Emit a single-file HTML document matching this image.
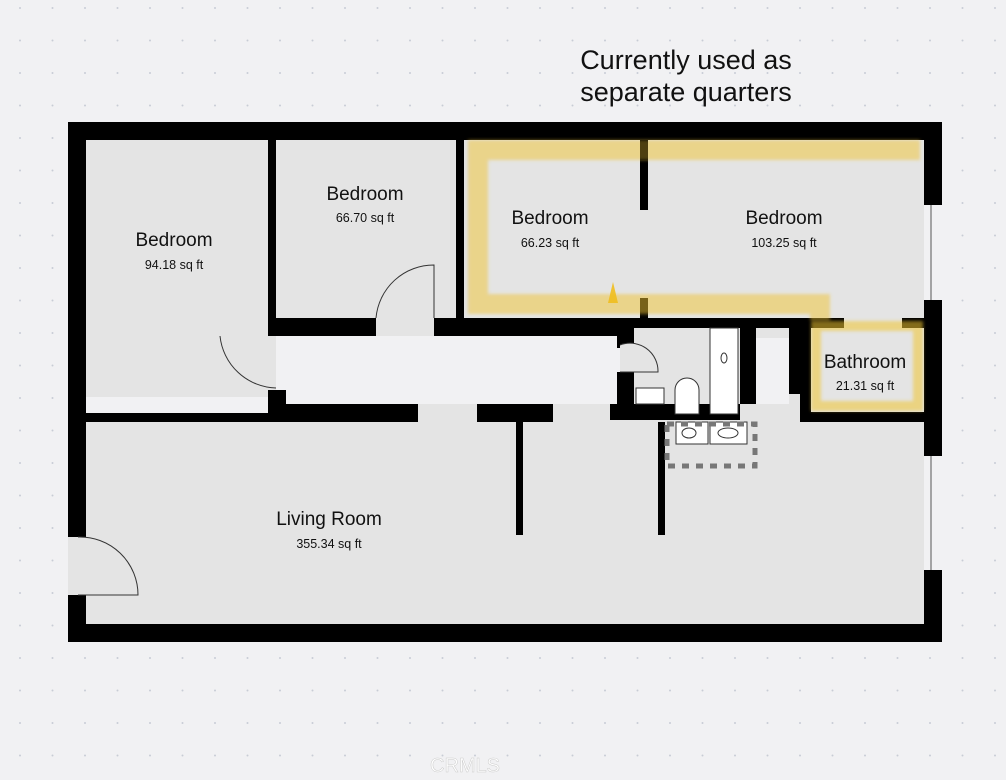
<!DOCTYPE html>
<html><head><style>
body{margin:0;background:#f1f1f3;}
svg{display:block;font-family:"Liberation Sans",sans-serif;}
</style></head><body>
<svg width="1006" height="780" viewBox="0 0 1006 780" xmlns="http://www.w3.org/2000/svg">
<defs><pattern id="dots" width="32.5" height="32.5" patternUnits="userSpaceOnUse"><circle cx="20" cy="8" r="1" fill="#c8ccd6"/></pattern>
<filter id="bl" x="-5%" y="-5%" width="110%" height="110%"><feGaussianBlur stdDeviation="1.5"/></filter></defs>
<rect width="1006" height="780" fill="#f1f1f3"/>
<rect width="1006" height="780" fill="url(#dots)"/>
<text x="686" y="69" font-size="27" text-anchor="middle" fill="#111">Currently used as</text>
<text x="686" y="101" font-size="27" text-anchor="middle" fill="#111">separate quarters</text>
<rect x="68" y="122" width="874" height="520" fill="#000"/>
<rect x="86" y="140" width="838" height="484" fill="#e4e4e4"/>
<rect x="68" y="537" width="18" height="58" fill="#e4e4e4"/>
<path d="M78 537 A58 58 0 0 1 138 595 L78 595" fill="none" stroke="#333" stroke-width="1"/>
<rect x="924" y="205" width="18" height="96" fill="#f1f1f3"/><line x1="931" y1="205" x2="931" y2="301" stroke="#555"/>
<rect x="924" y="455" width="18" height="115" fill="#f1f1f3"/><line x1="931" y1="455" x2="931" y2="570" stroke="#555"/>
<rect x="276" y="336" width="344" height="68" fill="#f1f1f3"/>
<rect x="86" y="397" width="182" height="16" fill="#f1f1f3"/>
<rect x="268" y="140" width="8" height="196" fill="#000"/>
<rect x="268" y="390" width="18" height="23" fill="#000"/>
<rect x="456" y="140" width="8" height="180" fill="#000"/>
<rect x="268" y="318" width="108" height="18" fill="#000"/>
<rect x="434" y="318" width="200" height="18" fill="#000"/>
<rect x="634" y="318" width="210" height="10" fill="#000"/>
<rect x="902" y="318" width="22" height="10" fill="#000"/>
<rect x="86" y="413" width="182" height="9" fill="#000"/>
<rect x="268" y="404" width="150" height="18" fill="#000"/>
<rect x="477" y="404" width="76" height="18" fill="#000"/>
<rect x="610" y="404" width="130" height="16" fill="#000"/>
<rect x="516" y="422" width="7" height="113" fill="#000"/>
<rect x="658" y="422" width="7" height="113" fill="#000"/>
<rect x="640" y="140" width="8" height="70" fill="#000"/>
<rect x="640" y="298" width="8" height="22" fill="#000"/>
<rect x="617" y="328" width="17" height="20" fill="#000"/>
<rect x="617" y="372" width="17" height="34" fill="#000"/>
<rect x="634" y="328" width="106" height="76" fill="#e4e4e4"/>
<rect x="740" y="328" width="16" height="76" fill="#000"/>
<rect x="756" y="338" width="33" height="66" fill="#f1f1f3"/>
<rect x="789" y="328" width="11" height="66" fill="#000"/>
<rect x="800" y="318" width="11" height="104" fill="#000"/>
<rect x="800" y="412" width="124" height="10" fill="#000"/>
<rect x="924" y="300" width="18" height="156" fill="#000"/>
<rect x="811" y="328" width="113" height="84" fill="#e4e4e4"/>
<path d="M620 345 A28 28 0 0 1 658 372 L620 372" fill="#e4e4e4" stroke="#333" stroke-width="1"/>
<rect x="636" y="388" width="28" height="16" fill="#fff" stroke="#333"/>
<rect x="710" y="328" width="28" height="86" fill="#fff" stroke="#333"/>
<ellipse cx="724" cy="358" rx="3" ry="5" fill="none" stroke="#333"/>
<path d="M675 414 V390 A12 12 0 0 1 699 390 V414 Z" fill="#fff" stroke="#333"/>
<rect x="676" y="422" width="32" height="22" fill="#fff" stroke="#333"/>
<rect x="710" y="422" width="37" height="22" fill="#fff" stroke="#333"/>
<ellipse cx="728" cy="433" rx="10" ry="5" fill="none" stroke="#333"/>
<ellipse cx="689" cy="433" rx="7" ry="5" fill="none" stroke="#333"/>
<rect x="667" y="424" width="88" height="42" fill="none" stroke="#777" stroke-width="5" stroke-dasharray="7 7"/>
<rect x="376" y="318" width="58" height="18" fill="#e4e4e4"/>
<path d="M376 318 A58 58 0 0 1 434 265 L434 318" fill="none" stroke="#333"/>
<path d="M220 336 A58 58 0 0 0 276 388" fill="none" stroke="#333"/>
<g filter="url(#bl)">
<path d="M920 150 H478 V304 H820 V320" fill="none" stroke="rgba(240,196,50,0.5)" stroke-width="20"/>
<rect x="816" y="326" width="102" height="80" fill="none" stroke="rgba(240,196,50,0.55)" stroke-width="10"/>
</g>
<rect x="640" y="140" width="8" height="20" fill="#000" opacity="0.35"/>
<polygon points="608,303 618,303 613,282" fill="rgba(240,190,30,0.9)"/>
<g fill="#111" text-anchor="middle">
<text x="174" y="246" font-size="19">Bedroom</text><text x="174" y="269" font-size="12.5">94.18 sq ft</text>
<text x="365" y="200" font-size="19">Bedroom</text><text x="365" y="222" font-size="12.5">66.70 sq ft</text>
<text x="550" y="224" font-size="19">Bedroom</text><text x="550" y="247" font-size="12.5">66.23 sq ft</text>
<text x="784" y="224" font-size="19">Bedroom</text><text x="784" y="247" font-size="12.5">103.25 sq ft</text>
<text x="865" y="368" font-size="19">Bathroom</text><text x="865" y="390" font-size="12.5">21.31 sq ft</text>
<text x="329" y="525" font-size="19">Living Room</text><text x="329" y="548" font-size="12.5">355.34 sq ft</text>
</g>
<text x="430" y="772" font-size="20" fill="#fff" stroke="#ccc" stroke-width="0.5">CRMLS</text>
</svg>
</body></html>
